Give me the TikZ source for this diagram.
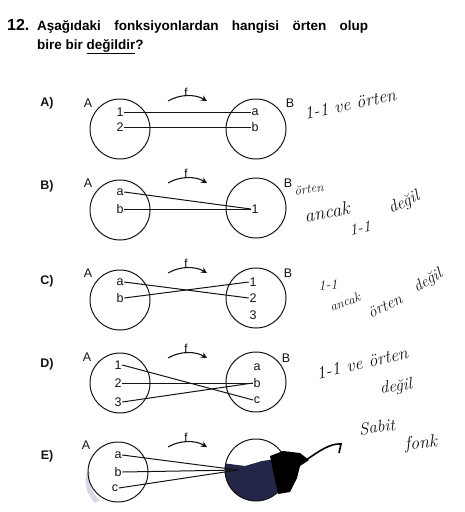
\documentclass[tikz,border=0pt]{standalone}
\usepackage{fontspec}
\setsansfont{Liberation Sans}
\usetikzlibrary{arrows.meta}
\definecolor{ink}{RGB}{20,20,20}
\definecolor{blueblack}{RGB}{35,38,70}
\definecolor{smudge}{RGB}{120,130,175}
\tikzset{
  setcircle/.style={draw=ink,line width=1pt,circle,minimum size=60pt,inner sep=0pt},
  elem/.style={font=\sffamily\fontsize{12.5}{12.5}\selectfont,inner sep=0.6pt,text=ink},
  setname/.style={font=\sffamily\fontsize{12.5}{12.5}\selectfont,inner sep=0pt,text=ink},
  optlabel/.style={font=\sffamily\bfseries\fontsize{12.5}{12.5}\selectfont,inner sep=0pt,text=ink},
  maparrow/.style={line width=1pt,draw=ink},
  farrow/.style={line width=1.1pt,draw=ink,-{Stealth[length=6pt,width=6pt]}},
  flabel/.style={font=\sffamily\fontsize{11.5}{11.5}\selectfont,inner sep=0pt},
  hand/.style={font=\itshape\fontsize{16}{16}\selectfont,inner sep=0pt,text=ink}
}
\begin{document}
\begin{tikzpicture}[x=1pt,y=-1pt]
\useasboundingbox (0,0) rectangle (465,512);
% title
\node[anchor=base west,inner sep=0pt,font=\sffamily\bfseries\fontsize{16}{16}\selectfont] (qnum) at (7,30) {12.};
\node[anchor=base west,inner sep=0pt,font=\sffamily\bfseries\fontsize{13.5}{13.5}\selectfont] (q1) at (37,30) {\makebox[331pt][s]{Aşağıdaki fonksiyonlardan hangisi örten olup}};
\node[anchor=base west,inner sep=0pt,font=\sffamily\bfseries\fontsize{13.5}{13.5}\selectfont] (q2) at (37,49) {bire bir \underline{değildir}?};

% ---------- A ----------
\node[optlabel] (oA) at (47,103) {A)};
\node[setcircle] (cA1) at (120,129) {};
\node[setcircle] (cA2) at (256,129) {};
\node[setname] (nA1) at (88,103) {A};
\node[setname] (nA2) at (290,103) {B};
\node[elem] (A1) at (120,112) {1};
\node[elem] (A2) at (120,127) {2};
\node[elem] (Aa) at (255,112) {a};
\node[elem] (Ab) at (255,127) {b};
\draw[maparrow] (A1.east) -- (Aa.west);
\draw[maparrow] (A2.east) -- (Ab.west);
\coordinate (fA1) at (168,101); \coordinate (fA2) at (207,101);
\draw[farrow] (fA1) .. controls (180,94) and (195,94) .. (fA2);
\node[flabel] (fA) at (186,92) {f};

% ---------- B ----------
\node[optlabel] (oB) at (47,186) {B)};
\node[setcircle] (cB1) at (120,210) {};
\node[setcircle] (cB2) at (256,208) {};
\node[setname] (nB1) at (88,183) {A};
\node[setname] (nB2) at (288,183) {B};
\node[elem] (Ba) at (120,192) {a};
\node[elem] (Bb) at (120,209) {b};
\node[elem] (B1) at (255,209) {1};
\draw[maparrow] (Ba.east) -- (B1.west);
\draw[maparrow] (Bb.east) -- (B1.west);
\coordinate (fB1) at (168,183); \coordinate (fB2) at (207,183);
\draw[farrow] (fB1) .. controls (180,176) and (195,176) .. (fB2);
\node[flabel] (fB) at (186,173) {f};

% ---------- C ----------
\node[optlabel] (oC) at (47,281) {C)};
\node[setcircle] (cC1) at (120,300) {};
\node[setcircle] (cC2) at (256,298) {};
\node[setname] (nC1) at (88,273) {A};
\node[setname] (nC2) at (288,273) {B};
\node[elem] (Ca) at (120,282) {a};
\node[elem] (Cb) at (120,298) {b};
\node[elem] (C1) at (253,282) {1};
\node[elem] (C2) at (253,298) {2};
\node[elem] (C3) at (253,315) {3};
\draw[maparrow] (Ca.east) -- (C2.west);
\draw[maparrow] (Cb.east) -- (C1.west);
\coordinate (fC1) at (168,273); \coordinate (fC2) at (207,273);
\draw[farrow] (fC1) .. controls (180,266) and (195,266) .. (fC2);
\node[flabel] (fC) at (186,263) {f};

% ---------- D ----------
\node[optlabel] (oD) at (47,364) {D)};
\node[setcircle] (cD1) at (120,383) {};
\node[setcircle] (cD2) at (256,382) {};
\node[setname] (nD1) at (87,357) {A};
\node[setname] (nD2) at (286,358) {B};
\node[elem] (D1) at (118,365) {1};
\node[elem] (D2) at (118,383) {2};
\node[elem] (D3) at (118,402) {3};
\node[elem] (Da) at (257,367) {a};
\node[elem] (Db) at (257,383) {b};
\node[elem] (Dc) at (257,400) {c};
\draw[maparrow] (D1.east) -- (Dc.west);
\draw[maparrow] (D2.east) -- (Db.west);
\draw[maparrow] (D3.east) -- (Db.west);
\coordinate (fD1) at (168,358); \coordinate (fD2) at (207,358);
\draw[farrow] (fD1) .. controls (180,351) and (195,351) .. (fD2);
\node[flabel] (fD) at (186,348) {f};

% ---------- E ----------
\fill[smudge,opacity=0.3] (90,472) .. controls (88,485) and (93,495) .. (100,500) -- (95,503) .. controls (85,493) and (84,480) .. (87,472) -- cycle;
\node[optlabel] (oE) at (47,456) {E)};
\node[setcircle] (cE1) at (118,472) {};
\node[circle,minimum size=62pt,inner sep=0pt] (cE2) at (256,470) {};
\begin{scope}
\clip (256,470) circle (31pt);
\fill[blueblack] (222,463) -- (245,466) -- (262,461) -- (290,457) -- (290,505) -- (222,505) -- cycle;
\end{scope}
\draw[ink,line width=1pt] (cE2) circle (31pt);
\fill[black] (270,456) -- (283,451) -- (300,453) -- (309,460) -- (300,466) -- (297,478) -- (290,492) -- (278,494) -- cycle;
\coordinate (scr1) at (306,460);
\coordinate (scr2) at (341,444);
\draw[black,line width=1.6pt] (scr1) .. controls (318,452) and (330,443) .. (scr2) -- (339,453);
\node[setname] (nE1) at (86,445) {A};
\node[elem] (Ea) at (118,455) {a};
\node[elem] (Eb) at (118,472) {b};
\node[elem] (Ec) at (115,488) {c};
\coordinate (E1) at (238,470);
\draw[maparrow] (Ea.east) -- (E1);
\draw[maparrow] (Eb.east) -- (E1);
\draw[maparrow] (Ec.east) -- (E1);
\coordinate (fE1) at (168,447); \coordinate (fE2) at (207,447);
\draw[farrow] (fE1) .. controls (180,440) and (195,440) .. (fE2);
\node[flabel] (fE) at (186,437) {f};

% ---------- handwritten notes ----------
\node[hand,rotate=12,font=\itshape\fontsize{18}{18}\selectfont] (hA) at (350,104) {1-1 ve örten};
\node[hand,rotate=8,font=\itshape\fontsize{13}{13}\selectfont] (hB1) at (309,189) {örten};
\node[hand,rotate=10,font=\itshape\fontsize{19}{19}\selectfont] (hB2) at (327,212) {ancak};
\node[hand,rotate=10] (hB3) at (360,228) {1-1};
\node[hand,rotate=25,font=\itshape\fontsize{17}{17}\selectfont] (hB4) at (404,203) {değil};
\node[hand,rotate=5,font=\itshape\fontsize{14}{14}\selectfont] (hC1) at (328,285) {1-1};
\node[hand,rotate=20,font=\itshape\fontsize{13}{13}\selectfont] (hC2) at (345,302) {ancak};
\node[hand,rotate=25] (hC3) at (385,306) {örten};
\node[hand,rotate=30] (hC4) at (428,281) {değil};
\node[hand,rotate=13,font=\itshape\fontsize{18}{18}\selectfont] (hD1) at (362,363) {1-1 ve örten};
\node[hand,rotate=8,font=\itshape\fontsize{17}{17}\selectfont] (hD2) at (396,387) {değil};
\node[hand,rotate=8,font=\itshape\fontsize{17}{17}\selectfont] (hE1) at (377,427) {Sabit};
\node[hand,rotate=5,font=\itshape\fontsize{18}{18}\selectfont] (hE2) at (421,444) {fonk};
\end{tikzpicture}
\end{document}
